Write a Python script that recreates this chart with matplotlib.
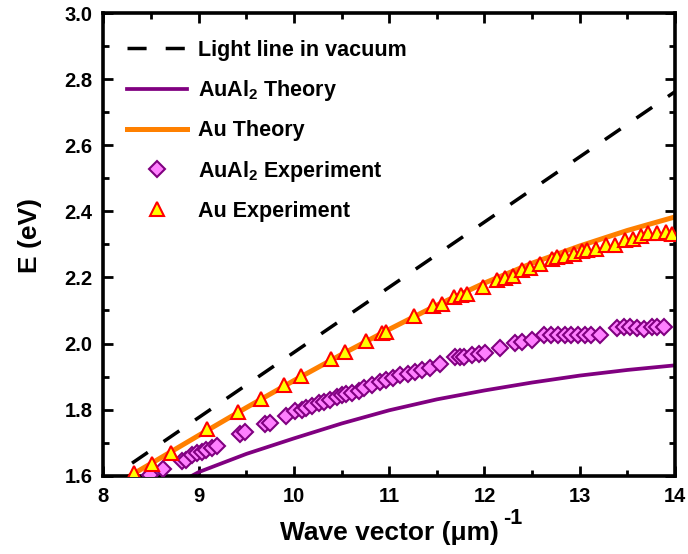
import matplotlib
matplotlib.use('Agg')
import matplotlib.pyplot as plt
from matplotlib.ticker import MultipleLocator

plt.rcParams['font.family'] = ['Liberation Sans', 'DejaVu Sans']
plt.rcParams['font.weight'] = 'bold'
plt.rcParams['axes.labelweight'] = 'bold'
plt.rcParams['mathtext.fontset'] = 'custom'
plt.rcParams['mathtext.rm'] = 'Liberation Sans:bold'
plt.rcParams['mathtext.it'] = 'Liberation Sans:bold'
plt.rcParams['mathtext.bf'] = 'Liberation Sans:bold'
plt.rcParams['mathtext.default'] = 'rm'

# ---- data ----
k_light = [8.3, 14.0]
E_light = [1.638, 2.762]

k_aual2_theory = [8.93, 9.0, 9.5, 10.0, 10.5, 11.0, 11.5, 12.0, 12.5, 13.0, 13.5, 14.0]
E_aual2_theory = [1.600, 1.611, 1.666, 1.713, 1.758, 1.798, 1.831, 1.858, 1.882, 1.903, 1.920, 1.934]

k_au_theory = [8.28, 8.5, 9.0, 9.5, 10.0, 10.5, 11.0, 11.5, 12.0, 12.5, 13.0, 13.5, 14.0]
E_au_theory = [1.600, 1.637, 1.722, 1.806, 1.888, 1.967, 2.043, 2.116, 2.183, 2.243, 2.295, 2.342, 2.383]

k_aual2_exp = [8.49, 8.63, 8.82, 8.87, 8.93, 8.98, 9.03, 9.08, 9.14, 9.195,
               9.43, 9.49, 9.70, 9.75, 9.92, 10.01, 10.08, 10.13, 10.19, 10.26,
               10.31, 10.38, 10.45, 10.50, 10.55, 10.61, 10.68, 10.74, 10.82, 10.90,
               10.97, 11.04, 11.11, 11.20, 11.27, 11.34, 11.43, 11.53, 11.69, 11.74,
               11.79, 11.87, 11.94, 12.01, 12.16, 12.32, 12.39, 12.50, 12.63, 12.70,
               12.77, 12.84, 12.91, 12.98, 13.05, 13.12, 13.21, 13.39, 13.46, 13.53,
               13.60, 13.67, 13.76, 13.81, 13.88]
E_aual2_exp = [1.602, 1.620, 1.645, 1.648, 1.663, 1.668, 1.673, 1.678, 1.683, 1.691,
               1.726, 1.731, 1.756, 1.761, 1.782, 1.797, 1.800, 1.805, 1.810, 1.819,
               1.824, 1.829, 1.839, 1.844, 1.847, 1.849, 1.857, 1.864, 1.874, 1.884,
               1.891, 1.897, 1.904, 1.909, 1.914, 1.919, 1.927, 1.937, 1.960, 1.958,
               1.960, 1.965, 1.968, 1.971, 1.985, 2.002, 2.005, 2.010, 2.025, 2.026,
               2.025, 2.025, 2.025, 2.025, 2.025, 2.025, 2.025, 2.048, 2.050, 2.050,
               2.048, 2.045, 2.050, 2.050, 2.050]

k_au_exp = [8.32, 8.51, 8.71, 9.09, 9.41, 9.65, 9.89, 10.07, 10.39, 10.54,
            10.76, 10.92, 10.97, 11.26, 11.46, 11.55, 11.68, 11.75, 11.82, 11.98,
            12.13, 12.22, 12.30, 12.39, 12.48, 12.58, 12.71, 12.76, 12.85, 12.94,
            13.02, 13.08, 13.17, 13.28, 13.37, 13.47, 13.56, 13.64, 13.72, 13.81,
            13.91, 13.97]
E_au_exp = [1.609, 1.635, 1.670, 1.740, 1.793, 1.831, 1.874, 1.901, 1.952, 1.974,
            2.008, 2.033, 2.035, 2.082, 2.113, 2.121, 2.141, 2.146, 2.151, 2.170,
            2.191, 2.199, 2.203, 2.221, 2.227, 2.240, 2.257, 2.262, 2.264, 2.270,
            2.280, 2.282, 2.287, 2.299, 2.297, 2.312, 2.317, 2.324, 2.334, 2.334,
            2.337, 2.332]

x_ticks = [8, 9, 10, 11, 12, 13, 14]
y_ticks = [1.6, 1.8, 2.0, 2.2, 2.4, 2.6, 2.8, 3.0]

fig = plt.figure(figsize=(6.88, 5.54), dpi=100)
fig.patch.set_facecolor('white')
ax = fig.add_axes([0.1504, 0.1413, 0.8307, 0.8352])

ax.plot(k_light, E_light, color='black', lw=2.5, dashes=(5.5, 5.5),
        label='Light line in vacuum', zorder=2)
ax.plot(k_aual2_theory, E_aual2_theory, color='#800080', lw=2.7,
        label='AuAl$_2$ Theory', zorder=2)
ax.plot(k_au_theory, E_au_theory, color='#FF8000', lw=3.6,
        label='Au Theory', zorder=2)
ax.plot(k_aual2_exp, E_aual2_exp, ls='none', marker='D', ms=8.2, mfc='#FF80FF',
        mec='#800080', mew=1.5, label='AuAl$_2$ Experiment', zorder=3)
ax.plot(k_au_exp, E_au_exp, ls='none', marker='^', ms=10, mfc='#FFFF00',
        mec='#FF0000', mew=1.5, label='Au Experiment', zorder=4)

ax.set_xlim(8, 14)
ax.set_ylim(1.6, 3.0)
ax.set_xticks(x_ticks)
ax.set_yticks(y_ticks)
ax.set_xticklabels([str(v) for v in x_ticks])
ax.set_yticklabels([f'{v:.1f}' for v in y_ticks])
ax.xaxis.set_minor_locator(MultipleLocator(0.5))
ax.yaxis.set_minor_locator(MultipleLocator(0.1))
ax.tick_params(which='both', direction='in', top=True, right=True, width=2.0)
ax.tick_params(which='major', length=7.5, labelsize=14.5, pad=8)
ax.tick_params(which='minor', length=4)
for s in ax.spines.values():
    s.set_linewidth(2.6)

ax.set_xlabel('Wave vector (μm)', fontsize=19)
ax.xaxis.set_label_coords(0.5, -0.098)
ax.annotate('-1', xy=(1, 1), xycoords=ax.xaxis.label, xytext=(3.5, -2),
            textcoords='offset points', ha='left', va='baseline',
            fontsize=15.5, fontweight='bold')
ax.set_ylabel('E (eV)', fontsize=19)
ax.yaxis.set_label_coords(-0.107, 0.52)

leg = ax.legend(loc='upper left', bbox_to_anchor=(0.041, 0.942), frameon=False,
                fontsize=15.5, handlelength=2.8, handletextpad=0.5,
                labelspacing=0.8, borderpad=0, borderaxespad=0, numpoints=1)

fig.savefig('out.png', dpi=100, facecolor='white')
